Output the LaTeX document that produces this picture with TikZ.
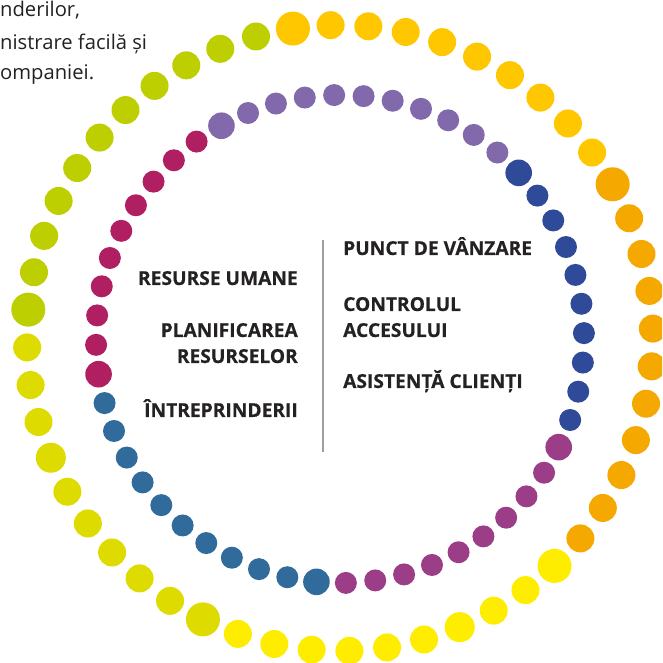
\documentclass[tikz,border=0pt]{standalone}
\usepackage{fontspec}
\setmainfont{Open Sans}[BoldFeatures={FakeBold=0.5}]
\usetikzlibrary{positioning}

\definecolor{olime}{rgb}{0.74,0.81,0.}
\definecolor{ogold}{rgb}{1.,0.78,0.}
\definecolor{oorange}{rgb}{0.96,0.66,0.}
\definecolor{oyellow}{rgb}{1.,0.93,0.}
\definecolor{oolive}{rgb}{0.87,0.86,0.}
\definecolor{imagenta}{rgb}{0.69,0.12,0.38}
\definecolor{ipurple}{rgb}{0.51,0.41,0.67}
\definecolor{inavy}{rgb}{0.18,0.29,0.60}
\definecolor{iplum}{rgb}{0.61,0.24,0.53}
\definecolor{isteel}{rgb}{0.19,0.42,0.61}
\definecolor{textgray}{rgb}{0.14,0.13,0.13}
\definecolor{linegray}{rgb}{0.62,0.62,0.61}

\begin{document}
\begin{tikzpicture}[line cap=round,line join=round,x=1pt,y=1pt,
  modleft/.style={font=\bfseries\fontsize{19.2}{20}\selectfont,text=textgray,anchor=base east,inner sep=0},
  modright/.style={font=\bfseries\fontsize{19.2}{20}\selectfont,text=textgray,anchor=base west,inner sep=0},
  introline/.style={font=\fontsize{20.2}{24}\selectfont,text=textgray,anchor=base west,inner sep=0}]

\useasboundingbox (0,0) rectangle (662,663);
\clip (0,0) rectangle (662,663);

\coordinate (oc) at (340,325);
\coordinate (ic) at (340,324);

% outer ring
\foreach \first/\last/\col in {0/10/olime,11/20/ogold,21/31/oorange,32/41/oyellow,42/51/oolive}{
  \fill[\col,shift={(oc)}] (174.8-\first*6.923:313) circle (17);
  \pgfmathtruncatemacro\nxt{\first+1}
  \foreach \i in {\nxt,...,\last}
    \fill[\col,shift={(oc)}] (174.8-\i*6.923:313) circle (14);
}
\fill[oyellow,shift={(oc)}] (174.8-35*6.923:313) circle (15);
\fill[oolive,shift={(oc)}] (174.8-48*6.923:313) circle (15);

% inner ring
\foreach \first/\last/\col in {0/9/imagenta,10/20/ipurple,21/30/inavy,31/40/iplum,41/51/isteel}{
  \fill[\col,shift={(ic)}] (188.3-\first*6.923:244) circle (13.3);
  \pgfmathtruncatemacro\nxt{\first+1}
  \foreach \i in {\nxt,...,\last}
    \fill[\col,shift={(ic)}] (188.3-\i*6.923:244) circle (11);
}

% divider
\coordinate (linetop) at (322.5,423);
\coordinate (linebot) at (322.5,211);
\draw[linegray,line width=2pt,line cap=butt] (linetop) -- (linebot);

% modules
\node[modleft] (resurse) at (298,378) {RESURSE UMANE};
\node[modleft] (planif) at (298,326) {PLANIFICAREA};
\node[modleft] (resurselor) at (298,300) {RESURSELOR};
\node[modleft] (intreprinderii) at (298,246) {ÎNTREPRINDERII};
\node[modright] (punct) at (343,408) {PUNCT DE VÂNZARE};
\node[modright] (controlul) at (343,352) {CONTROLUL};
\node[modright] (accesului) at (343,326) {ACCESULUI};
\node[modright] (asistenta) at (343,275) {ASISTENȚĂ CLIENȚI};

% intro text
\node[introline] (intro1) at (0,646) {nderilor,};
\node[introline] (intro2) at (0,613.5) {nistrare facilă și};
\node[introline] (intro3) at (0,583) {ompaniei.};
\end{tikzpicture}
\end{document}
